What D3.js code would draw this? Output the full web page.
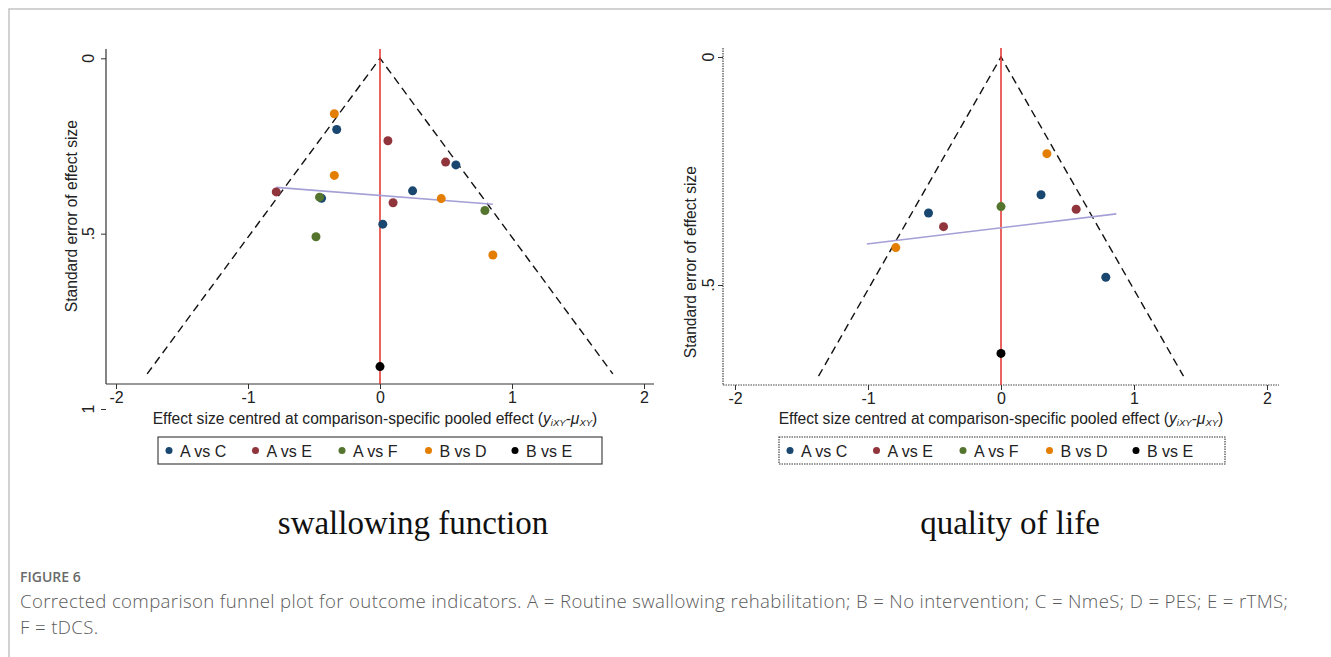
<!DOCTYPE html>
<meta charset="utf-8">
<script src="https://d3js.org/d3.v7.min.js"></script>
<style>
  body { margin: 0; background: #fff; }
</style>
<div id="chart"></div>
<script>
// comparison groups shared by both funnel plots
var groups = ["A vs C", "A vs E", "A vs F", "B vs D", "B vs E"];
var groupColors = ["#1a476f", "#90353b", "#55752f", "#e37e00", "#000000"];

// swallowing function: [centred effect, standard error]
var swallowAC = [[-0.328, 0.203], [0.575, 0.304], [0.247, 0.378], [-0.443, 0.399], [0.021, 0.473]];
var swallowAE = [[0.060, 0.235], [0.497, 0.296], [-0.786, 0.381], [0.099, 0.412]];
var swallowAF = [[-0.458, 0.396], [0.795, 0.434], [-0.485, 0.509]];
var swallowBD = [[-0.346, 0.158], [-0.346, 0.334], [0.464, 0.400], [0.855, 0.561]];
var swallowBE = [[0, 0.879]];
var swallowFit = [[-0.786, 0.368], [0.855, 0.416]];
var swallowMaxSE = 0.90;
var swallowYTicks = [0, 0.5, 1];
var swallowYLabels = ["0", ".5", "1"];

// quality of life
var qolAC = [[0.301, 0.302], [-0.545, 0.342], [0.788, 0.483]];
var qolAE = [[0.565, 0.334], [-0.432, 0.372]];
var qolAF = [[0, 0.328]];
var qolBD = [[0.345, 0.212], [-0.791, 0.418]];
var qolBE = [[0, 0.650]];
var qolFit = [[-1.009, 0.410], [0.867, 0.344]];
var qolMaxSE = 0.70;
var qolYTicks = [0, 0.5];
var qolYLabels = ["0", ".5"];

var xTicks = [-2, -1, 0, 1, 2];
var xTickLabels = ["-2", "-1", "0", "1", "2"];

var width = 1331, height = 657;
var sans = "'Liberation Sans', Arial, sans-serif";

var svg = d3.select("#chart")
  .append("svg")
    .attr("width", width)
    .attr("height", height)
    .style("font-family", sans);

// page frame
svg.append("rect")
  .attr("x", 9).attr("y", 9)
  .attr("width", width + 20).attr("height", height + 20)
  .attr("fill", "none")
  .attr("stroke", "#c4c4c4")
  .attr("stroke-width", 1.5);

var panels = [
  { series: [swallowAC, swallowAE, swallowAF, swallowBD, swallowBE], fit: swallowFit, maxSE: swallowMaxSE,
    yTicks: swallowYTicks, yLabels: swallowYLabels, title: "swallowing function",
    xr: [116, 644], yr: [58.3, 409], axisX: 106, axisTop: 49, axisY: 384, axisRight: 654,
    yLabelX: 94, yTitleX: 77, xTitleX: 375, legendX: 158, legendW: 444, titleX: 413, dotted: false },
  { series: [qolAC, qolAE, qolAF, qolBD, qolBE], fit: qolFit, maxSE: qolMaxSE,
    yTicks: qolYTicks, yLabels: qolYLabels, title: "quality of life",
    xr: [735, 1267], yr: [57, 513], axisX: 723, axisTop: 48, axisY: 385, axisRight: 1279,
    yLabelX: 714, yTitleX: 696, xTitleX: 1001, legendX: 779, legendW: 446, titleX: 1010, dotted: true }
];

panels.forEach(function(p) {
  var x = d3.scaleLinear().domain([-2, 2]).range(p.xr);
  var y = d3.scaleLinear().domain([0, 1]).range(p.yr);
  var g = svg.append("g");
  var axisColor = p.dotted ? "#444" : "#333";
  var dash = p.dotted ? "1.5,1" : null;

  // axis lines
  g.append("line")
    .attr("x1", p.axisX).attr("x2", p.axisX)
    .attr("y1", p.axisTop).attr("y2", p.axisY)
    .attr("stroke", axisColor).attr("stroke-width", 1.2).attr("stroke-dasharray", dash);
  g.append("line")
    .attr("x1", p.axisX).attr("x2", p.axisRight)
    .attr("y1", p.axisY).attr("y2", p.axisY)
    .attr("stroke", axisColor).attr("stroke-width", 1.2).attr("stroke-dasharray", dash);

  // x axis ticks
  var xAxis = g.append("g")
    .attr("transform", "translate(0," + p.axisY + ")")
    .call(d3.axisBottom(x).tickValues(xTicks).tickSize(5).tickPadding(3)
      .tickFormat(function(d, i) { return xTickLabels[i]; }));
  xAxis.select(".domain").remove();
  xAxis.selectAll("line").attr("stroke", "#333");
  xAxis.selectAll("text")
    .style("font-family", sans).style("font-size", "16px").attr("fill", "#222");

  // y axis ticks (rotated labels)
  var yAxis = g.append("g")
    .attr("transform", "translate(" + p.axisX + ",0)")
    .call(d3.axisLeft(y).tickValues(p.yTicks).tickSize(5).tickFormat(""));
  yAxis.select(".domain").remove();
  yAxis.selectAll("line").attr("stroke", "#333");
  g.selectAll(".ylab")
    .data(p.yTicks)
    .enter()
    .append("text")
      .attr("transform", function(d) { return "translate(" + p.yLabelX + "," + y(d) + ") rotate(-90)"; })
      .attr("text-anchor", "middle")
      .style("font-size", "16px")
      .attr("fill", "#222")
      .text(function(d, i) { return p.yLabels[i]; });

  // y title
  g.append("text")
    .attr("transform", "translate(" + p.yTitleX + "," + y(0.45) + ") rotate(-90)")
    .attr("text-anchor", "middle")
    .style("font-size", "15.6px")
    .attr("fill", "#222")
    .text("Standard error of effect size");

  // x title
  var xt = g.append("text")
    .attr("x", p.xTitleX).attr("y", 424)
    .attr("text-anchor", "middle")
    .style("font-size", "15.6px")
    .attr("fill", "#222");
  xt.append("tspan").text("Effect size centred at comparison-specific pooled effect (");
  xt.append("tspan").attr("font-style", "italic").text("y");
  xt.append("tspan").attr("font-style", "italic").style("font-size", "9.5px").attr("dy", 2).text("iXY");
  xt.append("tspan").attr("dy", -2).text("-");
  xt.append("tspan").attr("font-style", "italic").text("\u03bc");
  xt.append("tspan").attr("font-style", "italic").style("font-size", "9.5px").attr("dy", 2).text("XY");
  xt.append("tspan").attr("dy", -2).text(")");

  // funnel (95% pseudo-confidence limits)
  var funnel = [[-1.96 * p.maxSE, p.maxSE], [0, 0], [1.96 * p.maxSE, p.maxSE]];
  g.append("path")
    .datum(funnel)
    .attr("d", d3.line().x(function(d) { return x(d[0]); }).y(function(d) { return y(d[1]); }))
    .attr("fill", "none")
    .attr("stroke", "#111")
    .attr("stroke-width", 1.4)
    .attr("stroke-dasharray", "8,5");

  // zero line
  g.append("line")
    .attr("x1", x(0)).attr("x2", x(0))
    .attr("y1", p.axisTop).attr("y2", p.axisY)
    .attr("stroke", "#e2312d")
    .attr("stroke-width", 1.5);

  // fitted line
  g.append("path")
    .datum(p.fit)
    .attr("d", d3.line().x(function(d) { return x(d[0]); }).y(function(d) { return y(d[1]); }))
    .attr("stroke", "#a49fd6")
    .attr("stroke-width", 1.6);

  // points
  p.series.forEach(function(s, i) {
    g.selectAll(".pt" + i)
      .data(s)
      .enter()
      .append("circle")
        .attr("cx", function(d) { return x(d[0]); })
        .attr("cy", function(d) { return y(d[1]); })
        .attr("r", 4.5)
        .attr("fill", groupColors[i]);
  });

  // legend
  g.append("rect")
    .attr("x", p.legendX).attr("y", 437)
    .attr("width", p.legendW).attr("height", 27)
    .attr("fill", "none")
    .attr("stroke", "#333")
    .attr("stroke-width", 1.1)
    .attr("stroke-dasharray", dash);
  var items = g.selectAll(".leg")
    .data(groups)
    .enter()
    .append("g")
      .attr("transform", function(d, i) { return "translate(" + (p.legendX + 11 + i * 86.5) + ",450.5)"; });
  items.append("circle")
    .attr("r", 3.5)
    .attr("fill", function(d, i) { return groupColors[i]; });
  items.append("text")
    .attr("x", 11).attr("y", 6)
    .style("font-size", "16px")
    .attr("fill", "#222")
    .text(function(d) { return d; });

  // panel title
  g.append("text")
    .attr("x", p.titleX).attr("y", 534)
    .attr("text-anchor", "middle")
    .style("font-family", "'Liberation Serif', 'Times New Roman', serif")
    .style("font-size", "33px")
    .attr("fill", "#111")
    .text(p.title);
});

// caption
var capFont = "'Open Sans', Lato, sans-serif";
var capX = 20;
svg.append("text")
  .attr("x", capX).attr("y", 582)
  .style("font-family", capFont)
  .style("font-weight", "600")
  .style("font-size", "14px")
  .attr("fill", "#6a6a6a")
  .text("FIGURE 6");
svg.append("text")
  .attr("x", capX).attr("y", 608)
  .attr("textLength", 1268)
  .attr("lengthAdjust", "spacing")
  .style("font-family", capFont)
  .style("font-weight", "300")
  .style("font-size", "18.6px")
  .attr("fill", "#5a5a5a")
  .text("Corrected comparison funnel plot for outcome indicators. A = Routine swallowing rehabilitation; B = No intervention; C = NmeS; D = PES; E = rTMS;");
svg.append("text")
  .attr("x", capX).attr("y", 634)
  .style("font-family", capFont)
  .style("font-weight", "300")
  .style("font-size", "18.6px")
  .style("letter-spacing", "0.4px")
  .attr("fill", "#5a5a5a")
  .text("F = tDCS.");
</script>
